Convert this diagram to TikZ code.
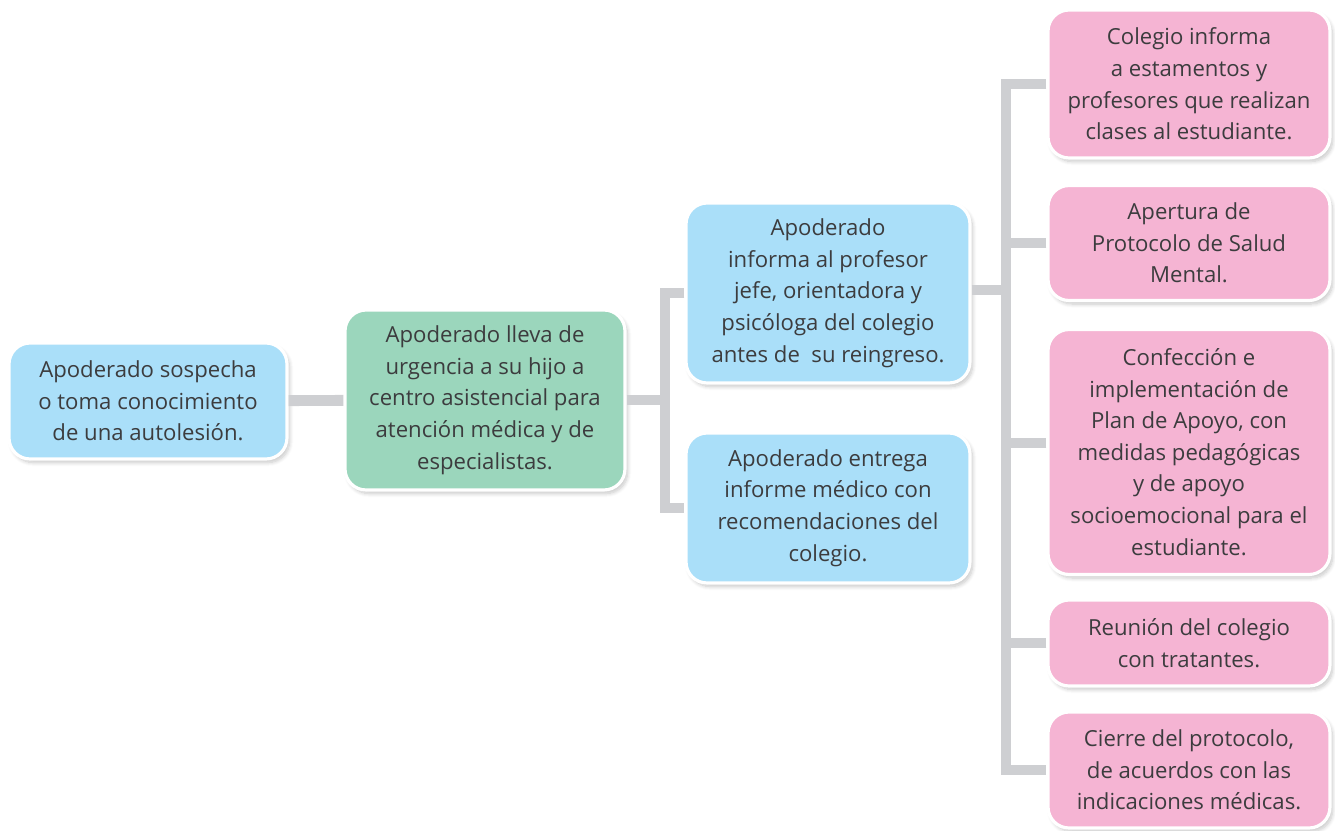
\documentclass[tikz,border=0pt]{standalone}
\usepackage{fontspec}
\setmainfont{Open Sans}
\usetikzlibrary{positioning, shadows.blur}

\begin{document}
\begin{tikzpicture}[x=0.02cm, y=-0.02cm,
        every node/.style={font=\fontsize{12.6}{18}\selectfont, text=txtgray, align=center},
        % boxes
        box/.style={draw=white, line width=1.8pt, rounded corners=0.42cm, inner sep=0pt,
            blur shadow={shadow xshift=1.5pt, shadow yshift=-2pt, shadow opacity=22, shadow blur steps=8}},
        bluebox/.style={box, fill=boxblue},
        greenbox/.style={box, fill=boxgreen},
        pinkbox/.style={box, fill=boxpink, minimum width=5.64cm},
        conn/.style={draw=conngray, line width=6.2pt},]

        \definecolor{boxblue}{RGB}{170, 223, 249}
        \definecolor{boxgreen}{RGB}{155, 214, 188}
        \definecolor{boxpink}{RGB}{245, 180, 211}
        \definecolor{conngray}{RGB}{206, 207, 210}
        \definecolor{txtgray}{RGB}{60, 60, 62}

        \useasboundingbox (0,0) rectangle (1335,831);

        \node[bluebox, minimum width=5.56cm, minimum height=2.32cm] (sospecha) at (148,401)
            {Apoderado sospecha\\o toma conocimiento\\de una autolesión.};
        \node[greenbox, minimum width=5.6cm, minimum height=3.6cm] (urgencia) at (485,400)
            {Apoderado lleva de\\urgencia a su hijo a\\centro asistencial para\\atención médica y de\\especialistas.};
        \node[bluebox, minimum width=5.68cm, minimum height=3.6cm] (informa) at (828,293)
            {Apoderado\\informa al profesor\\jefe, orientadora y\\psicóloga del colegio\\antes de~ su reingreso.};
        \node[bluebox, minimum width=5.68cm, minimum height=3.0cm] (entrega) at (828,508)
            {Apoderado entrega\\informe médico con\\recomendaciones del\\colegio.};

        \node[pinkbox, minimum height=2.96cm] (estamentos) at (1189,84)
            {Colegio informa\\a estamentos y\\profesores que realizan\\clases al estudiante.};
        \node[pinkbox, minimum height=2.3cm] (apertura) at (1189,243)
            {Apertura de\\Protocolo de Salud\\Mental.};
        \node[pinkbox, minimum height=4.9cm] (plan) at (1189,452)
            {Confección e\\implementación de\\Plan de Apoyo, con\\medidas pedagógicas\\y de apoyo\\socioemocional para el\\estudiante.};
        \node[pinkbox, minimum height=1.72cm] (reunion) at (1189,643)
            {Reunión del colegio\\con tratantes.};
        \node[pinkbox, minimum height=2.32cm] (cierre) at (1189,770)
            {Cierre del protocolo,\\de acuerdos con las\\indicaciones médicas.};

        \coordinate (splitL) at (665,400);
        \coordinate (splitR) at (1006,290);

        \draw[conn] (sospecha) -- (urgencia);
        \draw[conn] (urgencia.east) -- (splitL);
        \draw[conn] (informa.west) -| (splitL) |- (entrega.west);
        \draw[conn] (informa.east |- splitR) -- (splitR);
        \draw[conn] (estamentos.west) -| (splitR) |- (cierre.west);
        \draw[conn] (apertura.west) -- (apertura.west -| splitR);
        \draw[conn] ([yshift=0.18cm]plan.west) -- ([yshift=0.18cm]plan.west -| splitR);
        \draw[conn] (reunion.west) -- (reunion.west -| splitR);

    \end{tikzpicture}
\end{document}
